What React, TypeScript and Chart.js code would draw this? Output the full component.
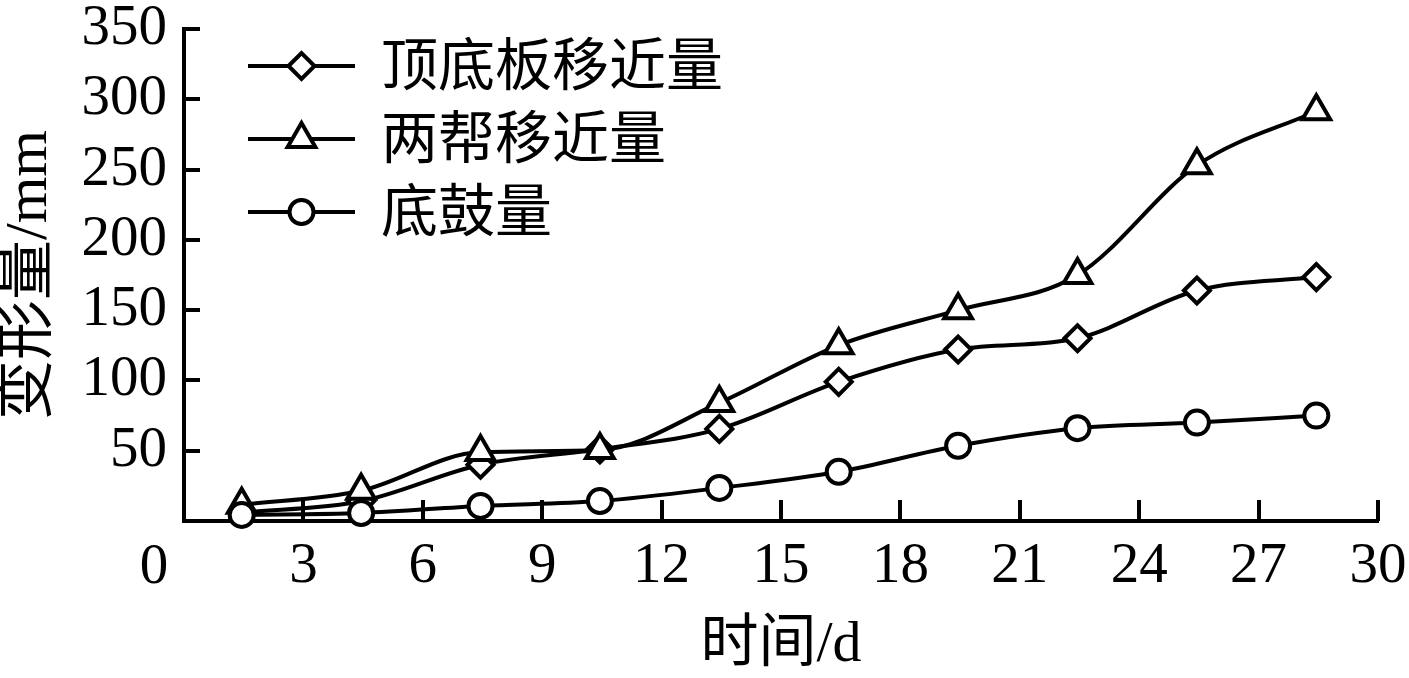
import React, { useEffect, useRef } from 'react';
import { Chart, registerables } from 'chart.js';
import { drawPoint } from 'chart.js/helpers';

Chart.register(...registerables);

// ---- data ----
const days = [1.45, 4.45, 7.45, 10.45, 13.45, 16.45, 19.45, 22.45, 25.45, 28.45];
const roofFloorConvergence = [6, 14, 40, 51, 65.5, 99, 122, 130, 164, 173.5];
const sidewallConvergence = [11.5, 21.5, 49, 50.5, 84, 125, 150, 175, 253, 291.5];
const floorHeave = [4.3, 5.7, 10.7, 14.2, 23.5, 35, 53.5, 66, 70, 75];
const seriesNames = ['顶底板移近量', '两帮移近量', '底鼓量'];
const xAxisTitle = '时间/d';
const yAxisTitle = '变形量/mm';
const xRange = [0, 30];
const xStep = 3;
const yRange = [0, 350];
const yStep = 50;

const SERIF = "'Liberation Serif', 'Times New Roman', 'Noto Sans CJK SC', serif";
const CJK = "'Liberation Serif', 'Noto Sans CJK SC', serif";

const toPoints = (vals: number[]) => vals.map((v, i) => ({ x: days[i], y: v }));

const innerTicksPlugin = {
  id: 'innerTicks',
  beforeDatasetsDraw(chart: any) {
    const { ctx, chartArea, scales } = chart;
    const xs = scales.x;
    const ys = scales.y;
    ctx.save();
    ctx.strokeStyle = '#000';
    ctx.lineWidth = 4;
    ctx.beginPath();
    ys.ticks.forEach((t: any) => {
      if (t.value === 0) return;
      const py = Math.round(ys.getPixelForValue(t.value));
      ctx.moveTo(chartArea.left, py);
      ctx.lineTo(chartArea.left + 16, py);
    });
    xs.ticks.forEach((t: any) => {
      if (t.value === 0) return;
      const px = Math.round(xs.getPixelForValue(t.value));
      ctx.moveTo(px, chartArea.bottom);
      ctx.lineTo(px, chartArea.bottom - 21);
    });
    ctx.stroke();
    ctx.restore();
  },
};

const originLabelPlugin = {
  id: 'originLabel',
  afterDraw(chart: any) {
    const { ctx, chartArea, scales } = chart;
    ctx.save();
    ctx.fillStyle = '#000';
    ctx.font = `57px ${SERIF}`;
    ctx.textAlign = 'center';
    ctx.textBaseline = 'middle';
    ctx.fillText(String(xRange[0]), scales.x.getPixelForValue(xRange[0]) - 30, chartArea.bottom + 47);
    ctx.restore();
  },
};

const legendPlugin = {
  id: 'lineLegend',
  afterDraw(chart: any) {
    const { ctx, chartArea } = chart;
    ctx.save();
    chart.data.datasets.forEach((ds: any, i: number) => {
      const y = chartArea.top + 37 + i * 73;
      const x0 = chartArea.left + 64;
      const x1 = chartArea.left + 171;
      ctx.strokeStyle = '#000';
      ctx.lineWidth = 4;
      ctx.beginPath();
      ctx.moveTo(x0, y);
      ctx.lineTo(x1, y);
      ctx.stroke();
      ctx.fillStyle = '#fff';
      ctx.strokeStyle = '#000';
      ctx.lineWidth = ds.pointBorderWidth;
      drawPoint(ctx, { pointStyle: ds.pointStyle, radius: ds.pointRadius, borderWidth: ds.pointBorderWidth, rotation: 0 } as any, (x0 + x1) / 2, y);
      ctx.fillStyle = '#000';
      ctx.font = `57px ${CJK}`;
      ctx.textAlign = 'left';
      ctx.textBaseline = 'middle';
      ctx.fillText(ds.label, chartArea.left + 197, y + 4);
    });
    ctx.restore();
  },
};

export default function App() {
  const ref = useRef<HTMLCanvasElement | null>(null);

  useEffect(() => {
    if (!ref.current) return;
    const common = {
      borderColor: '#000',
      borderWidth: 4,
      pointBackgroundColor: '#fff',
      pointBorderColor: '#000',
      pointBorderWidth: 4,
      cubicInterpolationMode: 'monotone',
      fill: false,
      clip: false as any,
    };
    const chart = new Chart(ref.current, {
      type: 'line',
      data: {
        datasets: [
          { ...common, label: seriesNames[0], data: toPoints(roofFloorConvergence), pointStyle: 'rectRot', pointRadius: 13, order: 3 },
          { ...common, label: seriesNames[1], data: toPoints(sidewallConvergence), pointStyle: 'triangle', pointRadius: 16, order: 2 },
          { ...common, label: seriesNames[2], data: toPoints(floorHeave), pointStyle: 'circle', pointRadius: 12, order: 1 },
        ] as any,
      },
      options: {
        animation: false,
        responsive: false,
        devicePixelRatio: 1,
        layout: { padding: { top: 29, right: 31, left: 0, bottom: 0 } },
        plugins: { legend: { display: false }, tooltip: { enabled: false } },
        scales: {
          x: {
            type: 'linear',
            min: xRange[0],
            max: xRange[1],
            afterFit: (s: any) => {
              s.height = 157;
              s.paddingLeft = 0;
              s.paddingRight = 0;
            },
            grid: { display: false, drawTicks: false },
            border: { display: true, color: '#000', width: 4 },
            ticks: {
              stepSize: xStep,
              color: '#000',
              padding: 18,
              font: { family: SERIF, size: 57, lineHeight: 1 },
              maxRotation: 0,
              autoSkip: false,
              callback: (v: any) => (v === 0 ? '' : String(v)),
            },
            title: {
              display: true,
              text: xAxisTitle,
              color: '#000',
              font: { family: CJK, size: 58, lineHeight: 1 },
              padding: { top: 0, bottom: 3 },
            },
          },
          y: {
            type: 'linear',
            min: yRange[0],
            max: yRange[1],
            afterFit: (s: any) => {
              s.width = 184;
              s.paddingTop = 0;
              s.paddingBottom = 0;
            },
            grid: { display: false, drawTicks: false },
            border: { display: true, color: '#000', width: 4 },
            ticks: {
              stepSize: yStep,
              color: '#000',
              padding: 17,
              font: { family: SERIF, size: 57, lineHeight: 1 },
              autoSkip: false,
              callback: (v: any) => (v === 0 ? '' : String(v)),
            },
            title: {
              display: true,
              text: yAxisTitle,
              color: '#000',
              font: { family: CJK, size: 60, lineHeight: 1 },
              padding: { top: 0, bottom: 0 },
            },
          },
        },
      } as any,
      plugins: [innerTicksPlugin, originLabelPlugin, legendPlugin],
    });
    return () => chart.destroy();
  }, []);

  return (
    <div style={{ position: 'fixed', left: 0, top: 0, width: 1409, height: 678, background: '#fff' }}>
      <canvas ref={ref} width={1409} height={678} style={{ width: 1409, height: 678, display: 'block' }} />
    </div>
  );
}
